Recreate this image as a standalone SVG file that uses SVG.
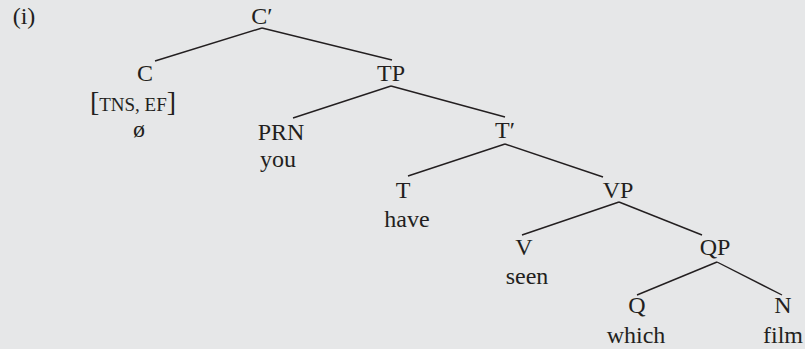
<svg xmlns="http://www.w3.org/2000/svg" width="805" height="349" viewBox="0 0 805 349">
<style>
.t text{font-family:'Liberation Serif','DejaVu Serif',serif;font-size:24px;fill:#231f20;text-anchor:middle}
.t .sc{font-size:19px}
.t .br{font-size:28px}
line{stroke:#231f20;stroke-width:1.4}
</style>
<rect width="805" height="349" fill="#e6e7e8"/>
<g class="t" font-family="Liberation Serif, serif">
<text x="24" y="24">(i)</text>
<g id="connectors">
<line x1="262" y1="28" x2="155" y2="61"/>
<line x1="262" y1="28" x2="392" y2="60"/>
<line x1="391" y1="86" x2="293" y2="118"/>
<line x1="391" y1="86" x2="505" y2="117"/>
<line x1="505" y1="144" x2="408" y2="176"/>
<line x1="505" y1="144" x2="603" y2="177"/>
<line x1="619" y1="202" x2="522" y2="235"/>
<line x1="619" y1="202" x2="702" y2="235"/>
<line x1="717" y1="262" x2="637" y2="295"/>
<line x1="717" y1="262" x2="782" y2="295"/>
</g>
<g id="Cbar"><text x="262" y="24">C′</text></g>
<g id="C"><text x="145" y="81">C</text><text x="133" y="111"><tspan class="br">[</tspan><tspan class="sc">TNS, EF</tspan><tspan class="br">]</tspan></text><text x="139" y="137">ø</text></g>
<g id="TP"><text x="391" y="81">TP</text></g>
<g id="PRN"><text x="281" y="140">PRN</text><text x="278" y="167">you</text></g>
<g id="Tbar"><text x="505" y="138">T′</text></g>
<g id="T"><text x="403" y="198">T</text><text x="407" y="227">have</text></g>
<g id="VP"><text x="618" y="198">VP</text></g>
<g id="V"><text x="524" y="255">V</text><text x="527" y="284">seen</text></g>
<g id="QP"><text x="715" y="255">QP</text></g>
<g id="Q"><text x="637" y="313">Q</text><text x="636" y="343">which</text></g>
<g id="N"><text x="783" y="313">N</text><text x="783" y="343">film</text></g>
</g>
</svg>
